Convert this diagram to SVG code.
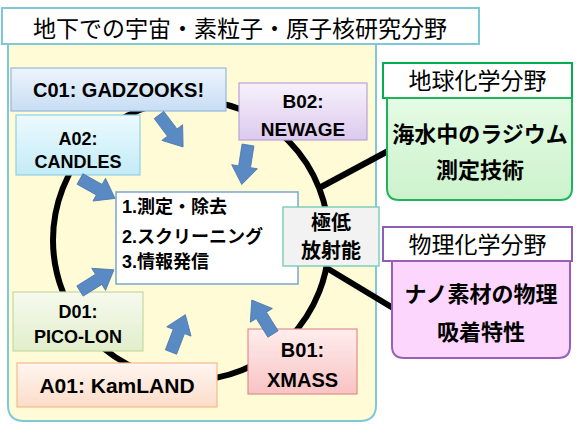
<svg xmlns="http://www.w3.org/2000/svg" width="577" height="424" viewBox="0 0 577 424">
<defs>
<linearGradient id="gC01" x1="0" y1="0" x2="0" y2="1"><stop offset="0" stop-color="#edf5fd"/><stop offset="1" stop-color="#c7ddf4"/></linearGradient>
<linearGradient id="gA02" x1="0" y1="0" x2="0" y2="1"><stop offset="0" stop-color="#ecfafe"/><stop offset="1" stop-color="#c3ebf7"/></linearGradient>
<linearGradient id="gB02" x1="0" y1="0" x2="0" y2="1"><stop offset="0" stop-color="#f7f1fb"/><stop offset="1" stop-color="#dccaee"/></linearGradient>
<linearGradient id="gD01" x1="0" y1="0" x2="0" y2="1"><stop offset="0" stop-color="#f6faee"/><stop offset="1" stop-color="#e1eecb"/></linearGradient>
<linearGradient id="gA01" x1="0" y1="0" x2="0" y2="1"><stop offset="0" stop-color="#fff6f1"/><stop offset="1" stop-color="#fcdcc8"/></linearGradient>
<linearGradient id="gB01" x1="0" y1="0" x2="0" y2="1"><stop offset="0" stop-color="#ffeded"/><stop offset="1" stop-color="#f8c3c3"/></linearGradient>
<linearGradient id="gGreen" x1="0" y1="0" x2="0" y2="1"><stop offset="0" stop-color="#e4fbe4"/><stop offset="1" stop-color="#ccf2cc"/></linearGradient>
<polygon id="arr" points="0,-6 22,-6 22,-13 40,0 22,13 22,6 0,6"/>
</defs>
<style>
.lat{font-family:"Liberation Sans","Noto Sans CJK JP",sans-serif;font-weight:bold;fill:#000;text-anchor:middle}
.jp{font-family:"Noto Sans CJK JP",sans-serif;fill:#000;text-anchor:middle}
.jb{font-family:"Liberation Sans","Noto Sans CJK JP",sans-serif;font-weight:bold;fill:#000}
.box{stroke-width:1.2}
.arrow{fill:#5a8ac4;stroke:#4a77ae;stroke-width:0.8}
.ring{fill:none;stroke:#000;stroke-width:6}
.link{stroke:#000;stroke-width:6}
</style>

<g id="field-underground">
<path d="M8,44 H376 V405 Q376,421 360,421 H24 Q8,421 8,405 Z" fill="#fffbd6" stroke="#7ec8d8" stroke-width="2"/>
<rect x="2" y="8" width="477" height="36" fill="#fff" stroke="#7ec8d8" stroke-width="2"/>
<text class="jp" x="240" y="37" font-size="23">地下での宇宙・素粒子・原子核研究分野</text>
</g>

<g id="connectors">
<ellipse class="ring" cx="191" cy="240" rx="138" ry="140"/>
<line class="link" x1="321" y1="187" x2="390" y2="150"/>
<line class="link" x1="325" y1="267" x2="393" y2="308"/>
</g>

<g id="field-geochem">
<rect x="383" y="63" width="189" height="35" fill="#fff" stroke="#00b050" stroke-width="2"/>
<text class="jp" x="477.5" y="89" font-size="23">地球化学分野</text>
<path d="M387,98 H572 V188 Q572,200 560,200 H399 Q387,200 387,188 Z" fill="url(#gGreen)" stroke="#1fb35a" stroke-width="2"/>
<text class="jp" x="480" y="142" font-size="22" font-weight="bold">海水中のラジウム</text>
<text class="jp" x="480" y="178" font-size="22" font-weight="bold">測定技術</text>
</g>

<g id="field-physchem">
<rect x="383" y="227" width="189" height="34" fill="#fff" stroke="#8e5db5" stroke-width="2"/>
<text class="jp" x="477.5" y="253" font-size="23">物理化学分野</text>
<path d="M392,261 H570 V346 Q570,358 558,358 H404 Q392,358 392,346 Z" fill="#fcd6fc" stroke="#9a5fb8" stroke-width="2"/>
<text class="jp" x="481" y="302" font-size="22" font-weight="bold">ナノ素材の物理</text>
<text class="jp" x="481" y="340" font-size="22" font-weight="bold">吸着特性</text>
</g>

<g id="C01">
<rect class="box" x="11" y="68" width="215" height="43" fill="url(#gC01)" stroke="#95b8de"/>
<text class="lat" x="118.5" y="97" font-size="20">C01: GADZOOKS!</text>
</g>
<g id="A02">
<rect class="box" x="16" y="115" width="124" height="60" fill="url(#gA02)" stroke="#8fd0e3"/>
<text class="lat" x="78" y="145" font-size="18">A02:</text>
<text class="lat" x="78" y="168" font-size="18">CANDLES</text>
</g>
<g id="B02">
<rect class="box" x="239" y="83" width="128" height="57" fill="url(#gB02)" stroke="#b9a2d6"/>
<text class="lat" x="303" y="108" font-size="19">B02:</text>
<text class="lat" x="303" y="136" font-size="19">NEWAGE</text>
</g>
<g id="D01">
<rect class="box" x="13" y="292" width="130" height="59" fill="url(#gD01)" stroke="#c5d9a0"/>
<text class="lat" x="78" y="318" font-size="18">D01:</text>
<text class="lat" x="78" y="343" font-size="18">PICO-LON</text>
</g>
<g id="A01">
<rect class="box" x="17" y="363" width="200" height="44" fill="url(#gA01)" stroke="#f5b98b"/>
<text class="lat" x="117" y="393" font-size="21">A01: KamLAND</text>
</g>
<g id="B01">
<rect class="box" x="248" y="329" width="109" height="65" fill="url(#gB01)" stroke="#e08d8d"/>
<text class="lat" x="302.5" y="357" font-size="20">B01:</text>
<text class="lat" x="302.5" y="387" font-size="20">XMASS</text>
</g>
<g id="center">
<rect x="116" y="192" width="182" height="92" fill="#fff" stroke="#7ba4d4" stroke-width="1.5"/>
<text class="jb" x="122" y="213" font-size="18">1.測定・除去</text>
<text class="jb" x="122" y="243" font-size="18">2.スクリーニング</text>
<text class="jb" x="122" y="268" font-size="18">3.情報発信</text>
</g>
<g id="low-radioactivity">
<rect x="283" y="207" width="96" height="59" fill="#f2f2f2" stroke="#7fcfb8" stroke-width="1.5"/>
<text class="jp" x="331" y="230" font-size="20" font-weight="bold">極低</text>
<text class="jp" x="331" y="258" font-size="20" font-weight="bold">放射能</text>
</g>

<g id="arrows">
<use href="#arr" class="arrow" transform="translate(159,115) rotate(53)"/>
<use href="#arr" class="arrow" transform="translate(248,145) rotate(99)"/>
<use href="#arr" class="arrow" transform="translate(80,179) rotate(29)"/>
<use href="#arr" class="arrow" transform="translate(80,291) rotate(-32)"/>
<use href="#arr" class="arrow" transform="translate(171,352) rotate(-69)"/>
<use href="#arr" class="arrow" transform="translate(273,334) rotate(-122)"/>
</g>
</svg>
